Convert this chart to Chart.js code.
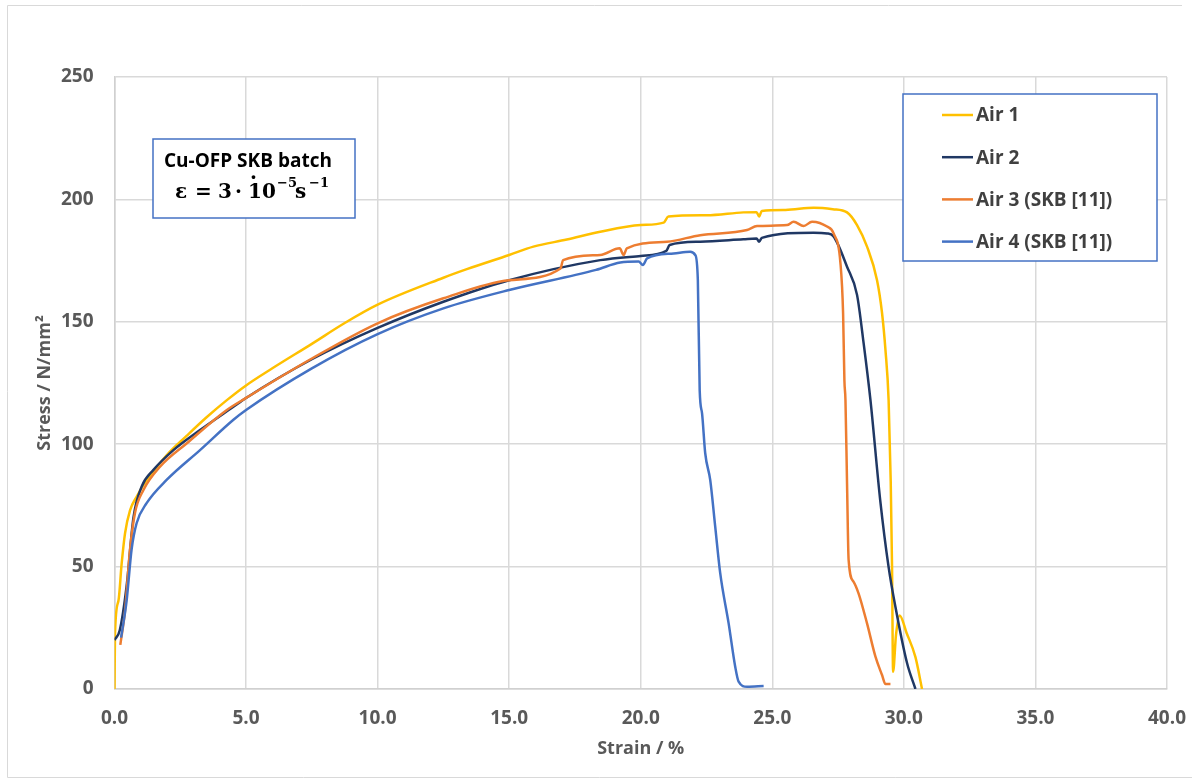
<!DOCTYPE html>
<html>
<head>
<meta charset="utf-8">
<script src="https://cdn.jsdelivr.net/npm/chart.js@4.4.1/dist/chart.umd.min.js"></script>
<style>
    html, body { margin: 0; padding: 0; background: #ffffff; }
    #wrap { width: 1192px; height: 780px; }
</style>
</head>
<body>
<div id="wrap"><canvas id="stressChart" width="1192" height="780"></canvas></div>
<script>
// ===== Cu-OFP tensile curves =====

const seriesLabels = ['Air 1', 'Air 2', 'Air 3 (SKB [11])', 'Air 4 (SKB [11])'];
const seriesColors = ['#FFC000', '#203864', '#ED7D31', '#4472C4'];

// strain in %, stress in N/mm2
const air1Strain = [0, 0.02, 0.15, 0.27, 0.4, 0.59, 0.84, 1.1, 1.48, 1.98, 2.75, 3.5, 4.27, 5.0, 6.0, 7.5, 8.75, 10.0, 12.5, 13.39, 15.0, 15.92, 17.19, 18.46, 20.0, 20.87, 21.05, 22.5, 23.9, 24.4, 24.5, 24.6, 25.5, 26.57, 27.3, 27.84, 28.22, 28.6, 28.98, 29.17, 29.3, 29.42, 29.5, 29.55, 29.59, 29.7, 29.84, 30.1, 30.44, 30.69];
const air1Stress = [0, 23, 36, 51, 63.6, 73, 78.5, 83.3, 88.8, 95.5, 103.5, 111, 118, 124, 131, 141, 149.5, 157, 168, 171.5, 177.3, 180.7, 183.6, 186.8, 189.5, 190.5, 193, 193.5, 194.7, 194.8, 193, 195.3, 195.7, 196.6, 196, 194.7, 189.5, 180.7, 167, 153.6, 138.5, 118, 85, 50, 7, 22, 30, 23, 13, 0];

const air2Strain = [0, 0.2, 0.46, 0.72, 1.03, 1.48, 2.24, 3.25, 4.52, 5.0, 7.5, 10.0, 12.5, 15.0, 18.46, 20.0, 20.97, 21.1, 22.26, 23.9, 24.4, 24.5, 24.6, 26.57, 27.08, 27.32, 27.84, 28.22, 28.47, 28.73, 29.1, 29.42, 29.68, 30.12, 30.44];
const air2Stress = [20, 24, 42, 70, 82.6, 89.5, 97.6, 105.8, 115.3, 118.9, 134.7, 147.5, 158.2, 167, 175.2, 176.9, 179, 181.4, 182.7, 183.7, 184, 182.7, 184.3, 186.4, 186.1, 185, 172.5, 161, 141.3, 118, 77.2, 49.8, 33.5, 10.6, 0];

const air3Strain = [0.22, 0.4, 0.59, 0.78, 1.1, 1.73, 2.75, 4.27, 5.0, 7.5, 10.0, 12.5, 15.0, 16.95, 17.05, 18.46, 19.2, 19.35, 19.47, 21.0, 22.26, 24.04, 24.42, 25.56, 25.81, 26.19, 26.51, 27.08, 27.33, 27.59, 27.69, 27.74, 27.78, 27.84, 27.9, 28.09, 28.28, 28.6, 28.92, 29.17, 29.3, 29.49];
const air3Stress = [18, 32, 57, 72, 81.3, 90.8, 100.4, 114, 118.9, 135, 149.4, 159.6, 167, 171.8, 175.2, 177.3, 180, 177.3, 180, 182.7, 185.4, 187.5, 189.1, 189.5, 190.9, 189.1, 190.9, 188.9, 186.1, 173.9, 153.5, 126, 118, 84, 52.7, 43.8, 39, 26.8, 13.2, 5.7, 2, 2];

const air4Strain = [0.25, 0.46, 0.65, 0.84, 1.22, 1.98, 3.25, 4.52, 5.0, 7.5, 10.0, 12.5, 15.0, 18.3, 19.22, 19.92, 20.08, 20.24, 21.25, 21.88, 22.07, 22.17, 22.24, 22.33, 22.45, 22.64, 22.83, 23.02, 23.34, 23.59, 23.72, 24.04, 24.67];
const air4Stress = [21, 36, 57, 67.7, 75.9, 85.4, 97.6, 110, 114, 131, 145, 155.5, 163, 171.2, 174.2, 174.6, 173.2, 175.9, 177.9, 178.6, 177.3, 167, 122, 112.6, 96.3, 85.4, 66.3, 47.3, 26.8, 9.1, 3, 0.9, 1.2];

const xTicks = [0, 5, 10, 15, 20, 25, 30, 35, 40];
const yTicks = [0, 50, 100, 150, 200, 250];

const allStrain = [air1Strain, air2Strain, air3Strain, air4Strain];
const allStress = [air1Stress, air2Stress, air3Stress, air4Stress];

const FONT = '"Open Sans", Lato, sans-serif';
const TEXT_GREY = '#595959';

function toPoints(xs, ys) {
    return xs.map((x, i) => ({ x: x, y: ys[i] }));
}

// outer frame, note box and legend box
const extrasPlugin = {
    id: 'extras',
    afterDraw(chart) {
        const ctx = chart.ctx;
        ctx.save();

        // outer frame (right edge falls outside the picture)
        ctx.strokeStyle = '#d9d9d9';
        ctx.lineWidth = 1;
        ctx.beginPath();
        ctx.moveTo(1182, 5.5);
        ctx.lineTo(7.5, 5.5);
        ctx.lineTo(7.5, 777.5);
        ctx.lineTo(1192, 777.5);
        ctx.stroke();

        // note box
        ctx.fillStyle = '#ffffff';
        ctx.fillRect(153, 139, 202, 79);
        ctx.strokeStyle = '#4472C4';
        ctx.lineWidth = 1.5;
        ctx.strokeRect(153, 139, 202, 79);

        ctx.fillStyle = '#000000';
        ctx.textBaseline = 'alphabetic';
        ctx.textAlign = 'left';
        ctx.font = 'bold 19px ' + FONT;
        ctx.fillText('Cu-OFP SKB batch', 164, 167);

        ctx.font = 'bold 20px "DejaVu Serif", serif';
        ctx.fillText('ε', 175, 198);
        ctx.fillText('=', 195, 198);
        ctx.fillText('3', 218, 198);
        ctx.fillText('·', 235, 198);
        ctx.fillText('10', 248, 198);
        ctx.fillText('·', 250, 184);
        ctx.fillText('s', 295, 198);
        ctx.font = 'bold 13px "DejaVu Serif", serif';
        ctx.fillText('−5', 277, 187);
        ctx.fillText('−1', 309, 187);

        // legend box
        ctx.fillStyle = '#ffffff';
        ctx.fillRect(903, 94, 254, 167);
        ctx.strokeStyle = '#4472C4';
        ctx.lineWidth = 1.5;
        ctx.strokeRect(903, 94, 254, 167);

        ctx.font = 'bold 19px ' + FONT;
        ctx.textBaseline = 'middle';
        chart.data.datasets.forEach((ds, i) => {
            const y = 115 + i * 42.2;
            ctx.strokeStyle = ds.borderColor;
            ctx.lineWidth = 2.5;
            ctx.beginPath();
            ctx.moveTo(942, y);
            ctx.lineTo(973, y);
            ctx.stroke();
            ctx.fillStyle = '#404040';
            ctx.fillText(ds.label, 976, y + 1);
        });

        ctx.restore();
    }
};

new Chart(document.getElementById('stressChart'), {
    type: 'scatter',
    data: {
        datasets: seriesLabels.map((label, i) => ({
            label: label,
            data: toPoints(allStrain[i], allStress[i]),
            showLine: true,
            borderColor: seriesColors[i],
            backgroundColor: seriesColors[i],
            borderWidth: 2.5,
            pointRadius: 0,
            tension: 0.3,
            cubicInterpolationMode: 'monotone',
            order: seriesLabels.length - i
        }))
    },
    options: {
        responsive: false,
        animation: false,
        devicePixelRatio: 1,
        layout: { padding: { left: 30, right: 25, top: 77, bottom: 16 } },
        plugins: {
            legend: { display: false },
            tooltip: { enabled: false }
        },
        scales: {
            x: {
                type: 'linear',
                min: 0,
                max: 40,
                afterFit: (axis) => {
                    axis.height = 75;
                    axis.paddingLeft = 0;
                    axis.paddingRight = 0;
                },
                afterBuildTicks: (axis) => { axis.ticks = xTicks.map(v => ({ value: v })); },
                grid: { color: '#d9d9d9', lineWidth: 1.5, drawTicks: false },
                border: { color: '#d0d0d0', width: 1.5 },
                ticks: {
                    padding: 18,
                    color: TEXT_GREY,
                    font: { family: FONT, size: 19, weight: 'bold' },
                    callback: (v) => Number(v).toFixed(1)
                },
                title: {
                    display: true,
                    text: 'Strain / %',
                    color: TEXT_GREY,
                    font: { family: FONT, size: 18, weight: 'bold' },
                    padding: { top: 4, bottom: 4 }
                }
            },
            y: {
                type: 'linear',
                min: 0,
                max: 250,
                afterFit: (axis) => { axis.width = 84.5; },
                afterBuildTicks: (axis) => { axis.ticks = yTicks.map(v => ({ value: v })); },
                grid: { color: '#d9d9d9', lineWidth: 1.5, drawTicks: false },
                border: { color: '#d0d0d0', width: 1.5 },
                ticks: {
                    padding: 21,
                    color: TEXT_GREY,
                    font: { family: FONT, size: 19, weight: 'bold' }
                },
                title: {
                    display: true,
                    text: 'Stress / N/mm²',
                    color: TEXT_GREY,
                    font: { family: FONT, size: 18, weight: 'bold' },
                    padding: { top: 4, bottom: 4 }
                }
            }
        }
    },
    plugins: [extrasPlugin]
});
</script>
</body>
</html>
